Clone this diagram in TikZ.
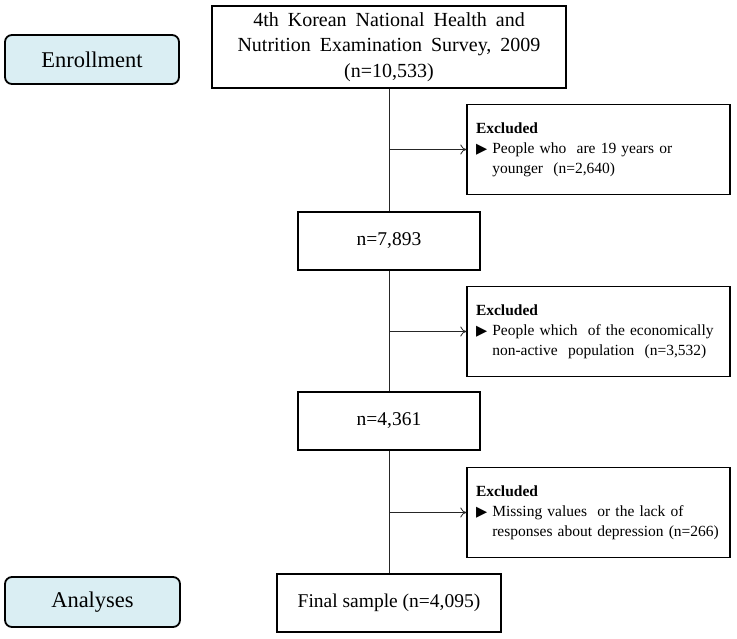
\documentclass[tikz,border=0pt]{standalone}
\usepackage{fontspec}
\setmainfont{Liberation Serif}
\newfontfamily\symfont{DejaVu Sans}
\usetikzlibrary{arrows.meta}
\usepackage{xcolor}
\definecolor{stagefill}{HTML}{DAEEF3}

\newcommand{\tri}{{\symfont\fontsize{14.5}{14}\selectfont ▶}}
\newcommand{\widesp}{\spaceskip=9pt\relax}

\tikzset{
  stagebox/.style={draw=black, line width=1.8pt, rounded corners=7pt, fill=stagefill,
    font=\fontsize{22.5}{26}\selectfont, inner sep=0pt},
  countbox/.style={draw=black, line width=1.4pt, align=center,
    font=\fontsize{19.5}{25.5}\selectfont, inner sep=0pt},
  exclbox/.style={draw=black, line width=1.4pt, align=left, text width=245pt,
    font=\fontsize{15.5}{19.8}\selectfont, inner sep=0pt,
    minimum width=263pt, minimum height=90pt},
  flow/.style={line width=0.8pt, draw=black!85},
  exarrow/.style={flow, -{To[length=6pt,width=10pt]}}
}

\begin{document}
\begin{tikzpicture}[x=1pt,y=-1pt]

        \useasboundingbox (0,0) rectangle (737,638);

        % Stages
        \node[stagebox, minimum width=174pt, minimum height=49pt] (enroll) at (92,59.5) {Enrollment};
        \node[stagebox, minimum width=175pt, minimum height=50pt] (analyses) at (92.5,602) {Analyses};

        % Main flow
        \node[countbox, minimum width=354pt, minimum height=82pt,
              font=\fontsize{20}{25.5}\selectfont] (survey) at (389,47)
          {\widesp 4th Korean National Health and\\\widesp Nutrition Examination Survey, 2009\\(n=10,533)};
        \node[countbox, minimum width=182pt, minimum height=58pt] (adult) at (389,241) {n=7,893};
        \node[countbox, minimum width=182pt, minimum height=58pt] (active) at (389,421) {n=4,361};
        \node[countbox, minimum width=224pt, minimum height=58pt] (final) at (389,603) {Final sample (n=4,095)};

        % Exclusions
        \node[exclbox] (exA) at (598.5,149.5)
          {\textbf{Excluded}\\\tri\ People who\ \ are 19 years or\\\hphantom{\tri\ }younger\ \ (n=2,640)};
        \node[exclbox] (exB) at (598.5,331.5)
          {\textbf{Excluded}\\\tri\ People which\ \ of the economically\\\hphantom{\tri\ }non-active\ \ population\ \ (n=3,532)};
        \node[exclbox] (exC) at (598.5,512.5)
          {\textbf{Excluded}\\\tri\ Missing values\ \ or the lack of\\\hphantom{\tri\ }responses about depression (n=266)};

        % Connectors
        \draw[flow] (survey) -- (adult);
        \draw[flow] (adult) -- (active);
        \draw[flow] (active) -- (final);

        \foreach \ex in {exA,exB,exC}
        {
          \draw[exarrow] (survey.south |- \ex.west) -- (\ex.west);
        }
    \end{tikzpicture}
\end{document}
